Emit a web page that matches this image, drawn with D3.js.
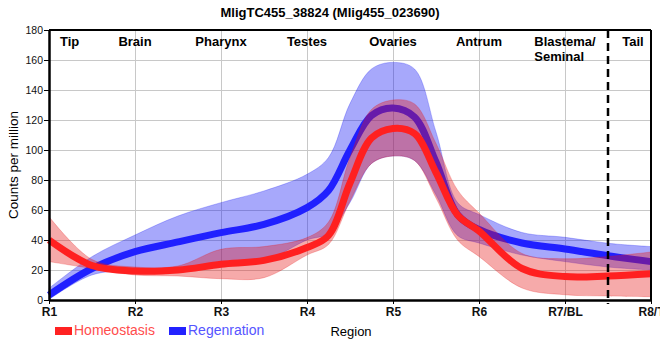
<!DOCTYPE html>
<html><head><meta charset="utf-8">
<script src="https://cdn.jsdelivr.net/npm/d3@7"></script>
<style>
body{margin:0;background:#fff;}
svg text{font-family:"Liberation Sans",Arial,sans-serif;}
</style>
</head><body>
<svg id="chart" width="660" height="360"></svg>
<script>
// ---- data ----
const title = "MligTC455_38824 (Mlig455_023690)";
const positions = [1,1.5,2,2.5,3,3.5,4,4.25,4.5,4.75,5,5.25,5.5,5.75,6,6.5,7,7.5,8];
const homeoMean  = [40,23,19.3,20,23.8,26.4,35,43,78,108,114.4,111,85,56.7,46,21,15.6,16,17.5];
const homeoUpper = [55.6,27,22,22.7,33.8,35.6,41.6,52,95,127,133.3,130.7,104.4,73.3,58,31,27.5,29,32];
const homeoLower = [25.6,21,16.7,16,14.2,14.9,30,37,66,91,96,93,68,40,29,8,3.5,2.7,2.2];
const regenMean  = [3.3,21,32.2,38.7,44.9,50.4,61.6,73,100,123,128,122,92,57,47,38,34,29.5,25.6];
const regenUpper = [7.8,28.9,43.3,56,64.9,72.7,83.8,95,131,154,158.4,154,112,65,57,45,41.8,37.8,35.6];
const regenLower = [0.4,16.7,20,21,23,26,40,44.4,65,91,96,93,70,43,38,30,25.6,22,20];
const xTickValues = [1,2,3,4,5,6,7,8];
const xTickLabels = ["R1","R2","R3","R4","R5","R6","R7/BL","R8/T"];
const yTickValues = [0,20,40,60,80,100,120,140,160,180];
const regionNames = [["Tip"],["Brain"],["Pharynx"],["Testes"],["Ovaries"],["Antrum"],["Blastema/","Seminal"],["Tail"]];
const regionNamePos = [1.24,2,3,4,5,6,7,7.79];
const tailBoundary = 7.5;
const seriesNames = ["Homeostasis","Regenration"];
const seriesColors = ["#ff2222","#2222ff"];

// ---- scales ----
const svg = d3.select("#chart");
const x = d3.scaleLinear().domain([1,8]).range([49,651]);
const y = d3.scaleLinear().domain([0,180]).range([300,30]);
const curve = d3.curveCatmullRom.alpha(0.5);

// ---- grid ----
const grid = svg.append("g").attr("stroke","#c8c8c8").attr("stroke-width",1);
grid.selectAll("line.h").data(yTickValues.filter(v=>v>0&&v<180)).join("line")
  .attr("x1",x(1)).attr("x2",x(8)).attr("y1",d=>y(d)+0.5).attr("y2",d=>y(d)+0.5);
grid.selectAll("line.v").data(xTickValues.filter(v=>v>1&&v<8)).join("line")
  .attr("y1",y(180)).attr("y2",y(0)).attr("x1",d=>x(d)+0.5).attr("x2",d=>x(d)+0.5);

// ---- bands & lines ----
function band(lower, upper){
  return d3.area().x((d,i)=>x(positions[i])).y0((d,i)=>y(lower[i])).y1((d,i)=>y(upper[i]))
    .curve(curve)(positions);
}
function line(vals){
  return d3.line().x((d,i)=>x(positions[i])).y((d,i)=>y(vals[i])).curve(curve)(positions);
}
svg.append("path").attr("d",band(regenLower,regenUpper))
  .attr("fill","rgb(10,15,245)").attr("fill-opacity",0.36)
  .attr("stroke","rgb(10,15,245)").attr("stroke-opacity",0.25).attr("stroke-width",1);
svg.append("path").attr("d",line(regenMean)).attr("fill","none")
  .attr("stroke","#2020ff").attr("stroke-width",7).attr("stroke-linecap","butt");
svg.append("path").attr("d",band(homeoLower,homeoUpper))
  .attr("fill","rgb(230,20,20)").attr("fill-opacity",0.36)
  .attr("stroke","rgb(230,20,20)").attr("stroke-opacity",0.25).attr("stroke-width",1);
svg.append("path").attr("d",line(homeoMean)).attr("fill","none")
  .attr("stroke","#ff2020").attr("stroke-width",7).attr("stroke-linecap","butt");

// ---- dashed boundary ----
svg.append("line").attr("x1",x(tailBoundary)).attr("x2",x(tailBoundary))
  .attr("y1",y(180)).attr("y2",y(0)+4).attr("stroke","#000").attr("stroke-width",2.5)
  .attr("stroke-dasharray","8,5");

// ---- frame & axes ----
svg.append("line").attr("x1",x(1)).attr("x2",x(8)).attr("y1",y(180)).attr("y2",y(180))
  .attr("stroke","#000").attr("stroke-width",2);
svg.append("line").attr("x1",x(8)).attr("x2",x(8)).attr("y1",y(180)).attr("y2",y(0))
  .attr("stroke","#000").attr("stroke-width",2);

const yAxis = svg.append("g").attr("transform",`translate(${x(1)},0)`)
  .call(d3.axisLeft(y).tickValues(yTickValues).tickSize(5).tickSizeOuter(0).tickPadding(1));
yAxis.select(".domain").attr("stroke-width",2.5);
yAxis.selectAll("text").attr("font-size",10.5).attr("fill","#111").style("font-family","'Liberation Sans',Arial,sans-serif");

const xAxis = svg.append("g").attr("transform",`translate(0,${y(0)})`)
  .call(d3.axisBottom(x).tickValues(xTickValues).tickFormat((d,i)=>xTickLabels[i]).tickSize(4).tickSizeOuter(0).tickPadding(3));
xAxis.select(".domain").attr("stroke-width",2.5);
xAxis.selectAll("text").attr("font-size",12).attr("font-weight","bold").attr("fill","#111").style("font-family","'Liberation Sans',Arial,sans-serif");

// ---- region names ----
regionNames.forEach((lines,i)=>{
  const cx = x(regionNamePos[i]);
  const g = svg.append("g");
  const first = g.append("text").attr("x",cx).attr("y",46).attr("text-anchor","middle")
    .attr("font-size",13).attr("font-weight","bold").text(lines[0]);
  if(lines.length>1){
    const w = first.node().getComputedTextLength();
    g.append("text").attr("x",cx-w/2).attr("y",61).attr("text-anchor","start")
      .attr("font-size",13).attr("font-weight","bold").text(lines[1]);
  }
});

// ---- title & axis labels ----
svg.append("text").attr("x",330).attr("y",17).attr("text-anchor","middle")
  .attr("font-size",13).attr("font-weight","bold").text(title);
svg.append("text").attr("transform",`translate(18,${(y(0)+y(180))/2}) rotate(-90)`)
  .attr("text-anchor","middle").attr("font-size",13.5).text("Counts per million");
svg.append("text").attr("x",351).attr("y",336).attr("text-anchor","middle")
  .attr("font-size",13).text("Region");

// ---- legend ----
const legendX = [55,169];
const legendTextColors = ["#ff4d4d","#5555ff"];
seriesNames.forEach((n,i)=>{
  svg.append("rect").attr("x",legendX[i]).attr("y",327).attr("width",17).attr("height",8)
    .attr("fill",seriesColors[i]);
  svg.append("text").attr("x",legendX[i]+19).attr("y",335).attr("font-size",14)
    .attr("fill",legendTextColors[i]).text(n);
});
</script>
</body></html>
